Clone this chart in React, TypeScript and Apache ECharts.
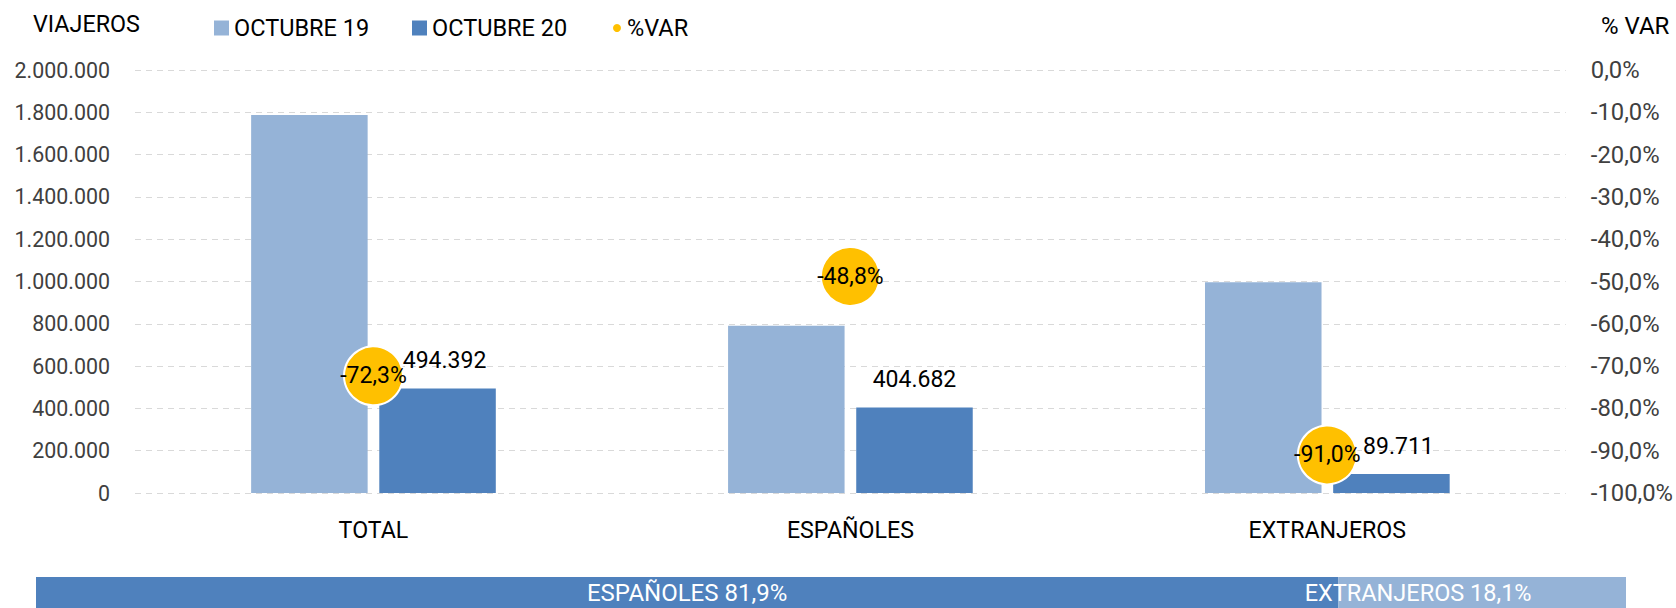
import React, { useEffect, useRef } from "react";
import * as echarts from "echarts";

const categories = ["TOTAL", "ESPAÑOLES", "EXTRANJEROS"];
const octubre19 = [1787000, 791000, 996800];
const octubre20 = [494392, 404682, 89711];
const varPct = [-72.3, -48.8, -91.0];
const shareNames = ["ESPAÑOLES", "EXTRANJEROS"];
const shareValues = [81.9, 18.1];
const leftTicks = { min: 0, max: 2000000, interval: 200000 };
const rightTicks = { min: -100, max: 0, interval: 10 };

const FONT = "Roboto, sans-serif";
const LIGHT = "#95B3D7";
const DARK = "#4F81BD";
const GOLD = "#FFC000";

const thousands = (v: number) =>
  String(Math.round(v)).replace(/\B(?=(\d{3})+(?!\d))/g, ".");
const pct = (v: number) => v.toFixed(1).replace(".", ",") + "%";

export default function App() {
  const ref = useRef<HTMLDivElement>(null);
  useEffect(() => {
    if (!ref.current) return;
    const chart = echarts.init(ref.current, undefined, { renderer: "svg" });
    const legendText = { fontSize: 23.5, color: "#000", fontFamily: FONT, lineHeight: 24 };
    // labels that sit next to a %VAR bubble are nudged right, as in the original
    const nudged = [true, false, true];
    chart.setOption({
      animation: false,
      textStyle: { fontFamily: FONT },
      legend: [
        {
          data: ["OCTUBRE 19"],
          left: 214,
          top: 16,
          padding: 0,
          itemWidth: 15,
          itemHeight: 15,
          icon: "rect",
          textStyle: legendText,
        },
        {
          data: ["OCTUBRE 20"],
          left: 412,
          top: 16,
          padding: 0,
          itemWidth: 15,
          itemHeight: 15,
          icon: "rect",
          textStyle: legendText,
        },
        {
          data: ["%VAR"],
          left: 611,
          top: 16,
          padding: 0,
          itemWidth: 10,
          itemHeight: 10,
          icon: "circle",
          textStyle: legendText,
        },
      ],
      graphic: [
        {
          type: "text",
          left: 33,
          top: 12,
          style: { text: "VIAJEROS", font: `23.3px ${FONT}`, fill: "#000" },
        },
        {
          type: "text",
          left: 1601,
          top: 14,
          style: { text: "% VAR", font: `24px ${FONT}`, fill: "#000" },
        },
      ],
      grid: [
        { left: 135, top: 70, width: 1432, height: 423 },
        { left: 36, top: 577, width: 1590, height: 40 },
      ],
      xAxis: [
        {
          type: "category",
          data: categories,
          gridIndex: 0,
          axisLine: { show: false },
          axisTick: { show: false },
          axisLabel: { fontSize: 23.2, color: "#000", margin: 25, fontFamily: FONT },
        },
        { type: "value", gridIndex: 1, min: 0, max: 100, show: false },
      ],
      yAxis: [
        {
          type: "value",
          gridIndex: 0,
          ...leftTicks,
          axisLine: { show: false },
          axisTick: { show: false },
          axisLabel: {
            fontSize: 21.4,
            color: "#404040",
            margin: 25,
            fontFamily: FONT,
            formatter: (v: number) => thousands(v),
          },
          splitLine: { lineStyle: { color: "#D9D9D9", type: [6, 5], width: 1 } },
        },
        {
          type: "value",
          gridIndex: 0,
          position: "right",
          ...rightTicks,
          axisLine: { show: false },
          axisTick: { show: false },
          splitLine: { show: false },
          axisLabel: {
            fontSize: 23.8,
            color: "#404040",
            margin: 25,
            fontFamily: FONT,
            formatter: (v: number) => pct(v),
          },
        },
        { type: "category", gridIndex: 1, data: ["share"], show: false },
      ],
      series: [
        {
          name: "OCTUBRE 19",
          type: "bar",
          xAxisIndex: 0,
          yAxisIndex: 0,
          data: octubre19,
          itemStyle: { color: LIGHT },
          barGap: "10%",
          barCategoryGap: "48.7%",
        },
        {
          name: "OCTUBRE 20",
          type: "bar",
          xAxisIndex: 0,
          yAxisIndex: 0,
          data: octubre20.map((v, i) =>
            nudged[i] ? { value: v, label: { offset: [7, 0] } } : v
          ),
          itemStyle: { color: DARK },
          label: {
            show: true,
            position: "top",
            distance: 16,
            fontSize: 23,
            color: "#000",
            fontFamily: FONT,
            formatter: (p: any) => thousands(p.value),
          },
        },
        {
          name: "%VAR",
          type: "scatter",
          xAxisIndex: 0,
          yAxisIndex: 1,
          data: varPct,
          symbolSize: 59,
          z: 5,
          itemStyle: { color: GOLD, borderColor: "#fff", borderWidth: 2, opacity: 1 },
          label: {
            show: true,
            position: "inside",
            fontSize: 23,
            color: "#000",
            fontFamily: FONT,
            formatter: (p: any) => pct(p.value),
          },
        },
        {
          name: shareNames[0],
          type: "bar",
          xAxisIndex: 1,
          yAxisIndex: 2,
          stack: "share",
          barWidth: 40,
          data: [shareValues[0]],
          itemStyle: { color: DARK },
          label: {
            show: true,
            position: "inside",
            fontSize: 24,
            color: "#fff",
            fontFamily: FONT,
            formatter: () => `${shareNames[0]} ${pct(shareValues[0])}`,
          },
        },
        {
          name: shareNames[1],
          type: "bar",
          xAxisIndex: 1,
          yAxisIndex: 2,
          stack: "share",
          barWidth: 40,
          data: [shareValues[1]],
          itemStyle: { color: LIGHT },
          label: {
            show: true,
            position: "inside",
            offset: [-64, 0],
            fontSize: 23.5,
            color: "#fff",
            fontFamily: FONT,
            formatter: () => `${shareNames[1]} ${pct(shareValues[1])}`,
          },
        },
      ],
    });
    return () => chart.dispose();
  }, []);
  return (
    <div
      ref={ref}
      style={{ position: "fixed", left: 0, top: 0, width: 1676, height: 608, background: "#fff" }}
    />
  );
}
